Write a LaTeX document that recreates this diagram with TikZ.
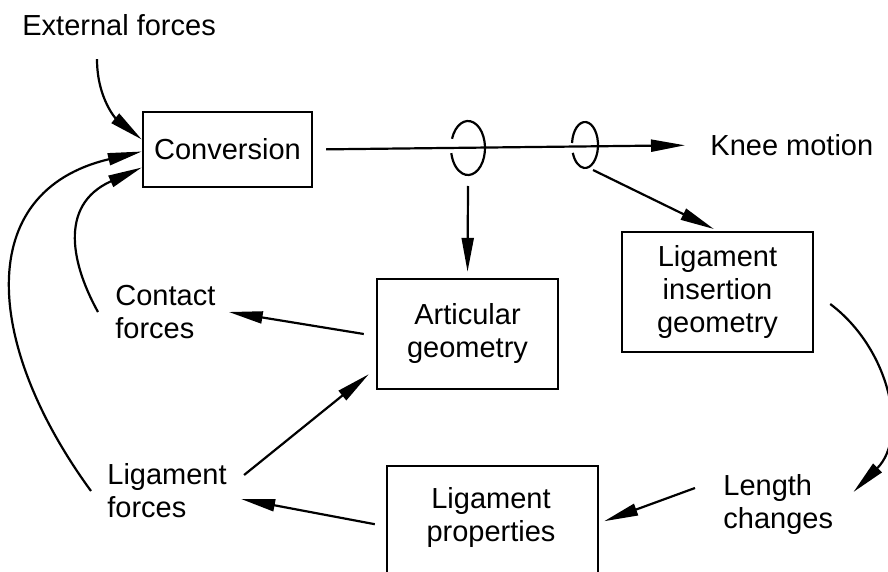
\documentclass[tikz,border=0pt]{standalone}
\usepackage{fontspec}
\setmainfont{Liberation Sans}
\usetikzlibrary{arrows.meta,positioning}

\begin{document}
\begin{tikzpicture}[x=0.5pt,y=-0.5pt,font=\fontsize{14.5pt}{16.5pt}\selectfont]
    \def\boxline{1.2pt}
    \tikzstyle{signal} = [line width=1.1pt, -{Triangle[length=17pt,width=6pt]}]
    \tikzstyle{block} = [draw, line width=\boxline, align=center, inner sep=0pt]
    \tikzstyle{annot} = [align=left, anchor=west, inner sep=0pt]
    \tikzstyle{ring} = [line width=1.1pt]
    \path[use as bounding box, clip] (0,0) rectangle (888,572);

    \node[block, minimum width=84.5pt, minimum height=37.5pt] (conv) at (227.5,149.5) {Conversion};
    \node[block, minimum width=90.5pt, minimum height=55pt] (art) at (467.5,334) {Articular\\geometry};
    \node[block, minimum width=95.5pt, minimum height=60pt] (ins) at (717.5,292) {Ligament\\insertion\\geometry};
    \node[block, minimum width=105.5pt, minimum height=65pt, anchor=north] (propbox) at (492.5,465) {};
    \node[align=center, inner sep=0pt] (prop) at (491,517) {Ligament\\properties};

    \node[annot] (ext) at (22,25) {External forces};
    \node[annot] (knee) at (710,145) {Knee motion};
    \node[annot] (cont) at (115,312) {Contact\\forces};
    \node[annot] (ligf) at (107,491) {Ligament\\forces};
    \node[annot] (len) at (723,504) {Length\\changes};

    \coordinate (r1) at (468,148);
    \coordinate (r2) at (585,145);

    \draw[signal] ([xshift=37.5pt,yshift=-11.5pt]ext.south west) .. controls +(0,40) and +(-25,-20) .. ([yshift=5pt]conv.west);
    \draw[signal, shorten <=6.5pt, shorten >=12.5pt] (conv.east) -- (knee.west);
    \draw[ring] ([shift={(200:17 and 27)}]r1) arc[start angle=200, end angle=529, x radius=17, y radius=27];
    \draw[ring] ([shift={(185:13 and 23)}]r2) arc[start angle=185, end angle=520, x radius=13, y radius=23];
    \draw[signal, shorten >=3pt] ([yshift=-19pt]r1) -- (art.north);
    \draw[signal, shorten >=2pt] ([xshift=4pt,yshift=-12.5pt]r2) -- (ins.north);

    \draw[signal] ([xshift=8pt,yshift=-6pt]ins.east) .. controls +(60,45) and +(55,-55) .. ([xshift=10pt,yshift=6pt]len.east);
    \draw[signal] ([xshift=-14pt,yshift=8pt]len.west) -- ([xshift=2.5pt,yshift=5pt]propbox.east);
    \draw[signal] ([xshift=-5.5pt,yshift=3.5pt]propbox.west) -- ([xshift=7pt,yshift=-4pt]ligf.east);
    \draw[signal] ([xshift=8.5pt,yshift=8pt]ligf.east) -- ([xshift=-3.5pt,yshift=8pt]art.south west);
    \draw[signal] ([xshift=-6pt]art.west) -- ([xshift=6.5pt]cont.east);

    \draw[signal] ([xshift=-8pt]ligf.west) .. controls +(-106,-145) and +(-170,40) .. ([yshift=-1pt]conv.west);
    \draw[signal] ([xshift=-8.5pt]cont.west) .. controls +(-25,-45) and +(-85,38) .. ([yshift=-9pt]conv.west);
\end{tikzpicture}
\end{document}
